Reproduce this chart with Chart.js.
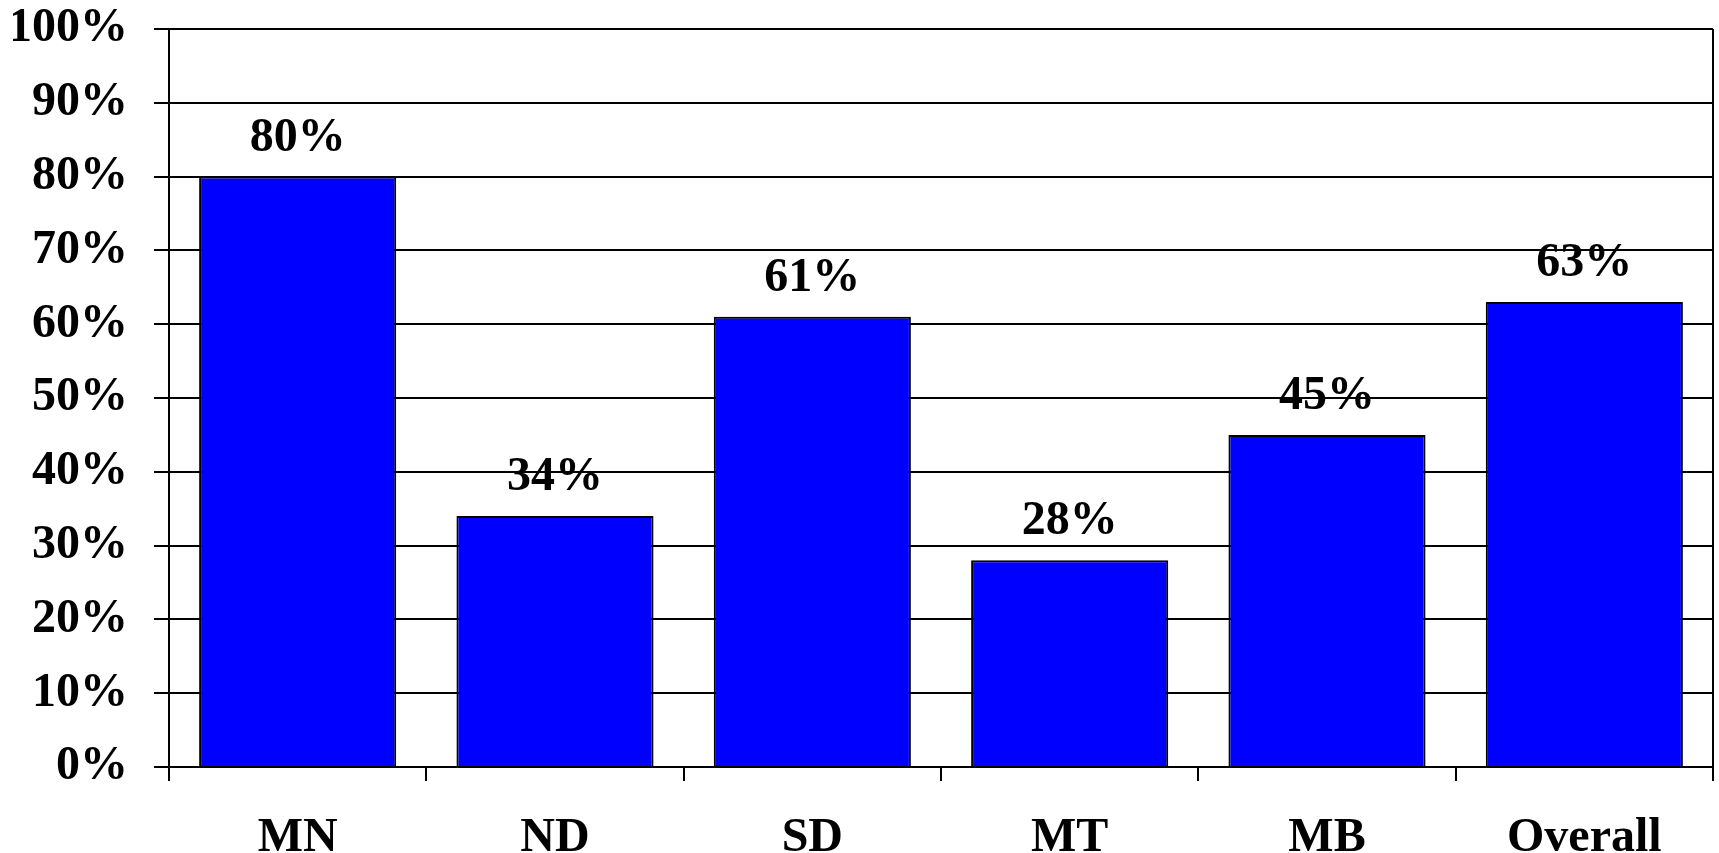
<!DOCTYPE html>
<html>
<head>
<meta charset="utf-8">
<style>
  html, body { margin: 0; padding: 0; background: #fff; }
  #wrap { width: 1719px; height: 853px; }
</style>
<script src="https://cdn.jsdelivr.net/npm/chart.js"></script>
</head>
<body>
<div id="wrap"><canvas id="c" width="1719" height="853"></canvas></div>
<script>
const categories = ["MN", "ND", "SD", "MT", "MB", "Overall"];
const values = [80, 34, 61, 28, 45, 63];
const yTicks = [0, 10, 20, 30, 40, 50, 60, 70, 80, 90, 100];

const FONT = "'Liberation Serif', 'Times New Roman', serif";

const valueLabels = {
  id: 'valueLabels',
  afterDatasetsDraw(chart) {
    const ctx = chart.ctx;
    const meta = chart.getDatasetMeta(0);
    ctx.save();
    ctx.font = "bold 48px " + FONT;
    ctx.fillStyle = '#000';
    ctx.textAlign = 'center';
    ctx.textBaseline = 'alphabetic';
    meta.data.forEach((bar, i) => {
      ctx.fillText(values[i] + '%', bar.x, bar.y - 26);
    });
    ctx.restore();
  }
};

const rightBorder = {
  id: 'rightBorder',
  afterDraw(chart) {
    const a = chart.chartArea;
    const ctx = chart.ctx;
    ctx.save();
    ctx.strokeStyle = '#000';
    ctx.lineWidth = 2;
    ctx.beginPath();
    ctx.moveTo(a.right, a.top);
    ctx.lineTo(a.right, a.bottom + 14);
    ctx.stroke();
    ctx.restore();
  }
};

new Chart(document.getElementById('c'), {
  type: 'bar',
  data: {
    labels: categories,
    datasets: [{
      data: values,
      backgroundColor: '#0000FF',
      borderColor: '#000',
      borderWidth: 2,
      categoryPercentage: 1.0,
      barPercentage: 0.766
    }]
  },
  options: {
    responsive: false,
    animation: false,
    devicePixelRatio: 1,
    layout: { padding: { left: 13, right: 6, top: 29, bottom: 2 } },
    plugins: {
      legend: { display: false },
      tooltip: { enabled: false }
    },
    scales: {
      x: {
        offset: true,
        afterFit(axis) {
          axis.height = 84;
          axis.paddingLeft = 0; axis.paddingRight = 0;
          axis.paddingTop = 0; axis.paddingBottom = 0;
        },
        grid: {
          offset: true,
          drawOnChartArea: false,
          drawTicks: true,
          tickLength: 14,
          color: '#000',
          lineWidth: 2
        },
        border: { display: true, color: '#000', width: 2 },
        ticks: {
          color: '#000',
          padding: 34,
          font: { family: FONT, size: 48, weight: 'bold', lineHeight: 1.0 }
        }
      },
      y: {
        min: 0,
        max: 100,
        afterFit(axis) {
          axis.width = 156;
          axis.paddingLeft = 0; axis.paddingRight = 0;
          axis.paddingTop = 0; axis.paddingBottom = 0;
        },
        afterBuildTicks(axis) {
          axis.ticks = yTicks.map(v => ({ value: v }));
        },
        grid: {
          color: '#000',
          lineWidth: 2,
          drawTicks: true,
          tickLength: 15
        },
        border: { display: true, color: '#000', width: 2 },
        ticks: {
          color: '#000',
          padding: 26,
          callback: v => v + '%',
          font: { family: FONT, size: 48, weight: 'bold', lineHeight: 1.2 }
        }
      }
    }
  },
  plugins: [valueLabels, rightBorder]
});
</script>
</body>
</html>
